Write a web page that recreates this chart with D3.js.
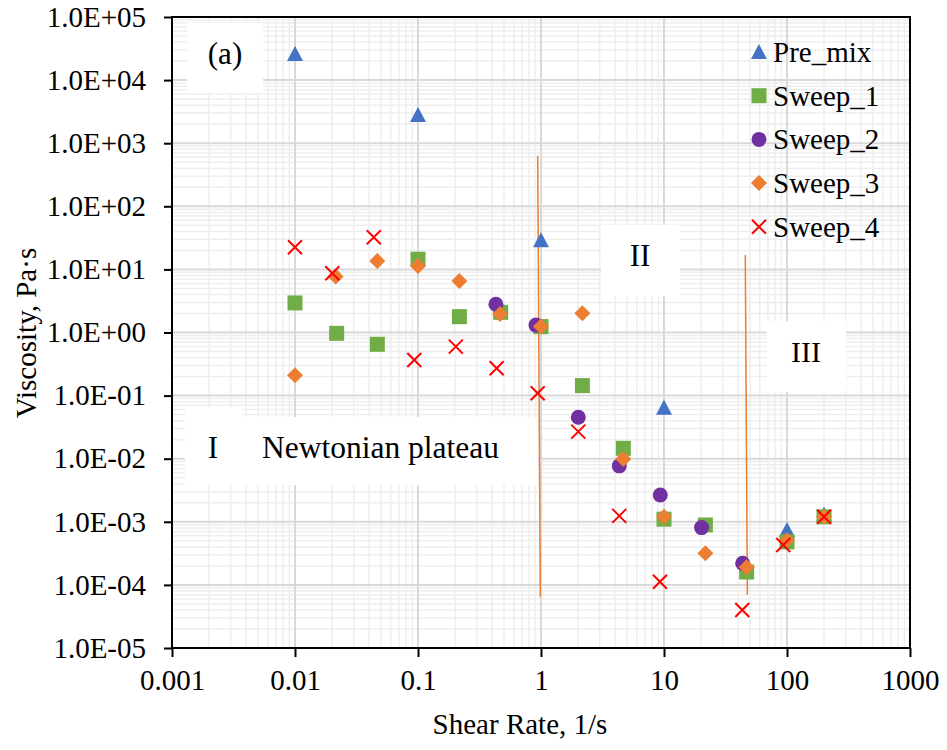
<!DOCTYPE html>
<html>
<head>
<meta charset="utf-8">
<script src="https://cdn.jsdelivr.net/npm/d3@7"></script>
<style>
  body { margin: 0; background: #fff; }
  svg text { font-family: "Liberation Serif", "Times New Roman", serif; fill: #000; }
</style>
</head>
<body>
<div id="g"></div>
<script>
// shear rate (1/s) and viscosity (Pa.s)
const preMixX = [0.01, 0.1, 1, 10, 100, 200];
const preMixY = [2.6e4, 2.8e3, 29, 0.064, 7.4e-4, 1.3e-3];

const sweep1X = [0.01, 0.0218, 0.0467, 0.1, 0.217, 0.47, 1.0, 2.17, 4.67, 10, 21.7, 47, 100, 200];
const sweep1Y = [2.94, 0.97, 0.65, 14.5, 1.78, 2.09, 1.24, 0.144, 0.0146, 1.1e-3, 8.9e-4, 1.6e-4, 4.8e-4, 1.2e-3];

const sweep2X = [0.43, 0.91, 2.01, 4.33, 9.33, 20.2, 43.6];
const sweep2Y = [2.8, 1.31, 0.0453, 7.7e-3, 2.66e-3, 8.1e-4, 2.2e-4];

const sweep3X = [0.01, 0.0214, 0.0467, 0.1, 0.217, 0.465, 1.0, 2.17, 4.67, 10, 21.7, 47, 100, 200];
const sweep3Y = [0.21, 7.7, 13.6, 11.3, 6.55, 1.96, 1.24, 2.01, 9.9e-3, 1.2e-3, 3.16e-4, 1.9e-4, 5.1e-4, 1.2e-3];

const sweep4X = [0.01, 0.0201, 0.0437, 0.0933, 0.203, 0.436, 0.94, 2.01, 4.33, 9.27, 43.3, 93.3, 200];
const sweep4Y = [22.4, 8.67, 32.3, 0.367, 0.597, 0.271, 0.109, 0.0269, 1.24e-3, 1.12e-4, 4.0e-5, 4.3e-4, 1.2e-3];

// orange region boundaries
const bound1X = [0.94, 0.987];
const bound1Y = [634, 6.5e-5];
const bound2X = [45.8, 47.6];
const bound2Y = [16.9, 6.9e-5];

const xTicks = [0.001, 0.01, 0.1, 1, 10, 100, 1000];
const xTickLabels = ["0.001", "0.01", "0.1", "1", "10", "100", "1000"];
const yTicks = [1e5, 1e4, 1e3, 1e2, 1e1, 1e0, 1e-1, 1e-2, 1e-3, 1e-4, 1e-5];
const yTickLabels = ["1.0E+05", "1.0E+04", "1.0E+03", "1.0E+02", "1.0E+01", "1.0E+00",
                     "1.0E-01", "1.0E-02", "1.0E-03", "1.0E-04", "1.0E-05"];

const seriesNames = ["Pre_mix", "Sweep_1", "Sweep_2", "Sweep_3", "Sweep_4"];
const seriesColors = ["#4472C4", "#70AD47", "#7030A0", "#ED7D31", "#FF0000"];
const seriesShapes = ["triangle", "square", "circle", "diamond", "cross"];

function make_graph() {
    const margin = { top: 17, right: 37, bottom: 102, left: 172 };
    const W = 947, H = 750;
    const width = W - margin.left - margin.right;
    const height = H - margin.top - margin.bottom;

    const xScale = d3.scaleLog().domain([1e-3, 1e3]).range([0, width]);
    const yScale = d3.scaleLog().domain([1e-5, 1e5]).range([height, 0]);

    const svg = d3.select('#g').append('svg')
        .attr('width', W)
        .attr('height', H);

    const g = svg.append('g')
        .attr('transform', `translate(${margin.left}, ${margin.top})`);

    // gridlines: minor first, then major
    const minorX = [], minorY = [];
    for (let e = -3; e < 3; e++) for (let k = 2; k <= 9; k++) minorX.push(k * Math.pow(10, e));
    for (let e = -5; e < 5; e++) for (let k = 2; k <= 9; k++) minorY.push(k * Math.pow(10, e));

    g.selectAll('.mx').data(minorX).enter().append('line')
        .attr('x1', d => xScale(d)).attr('x2', d => xScale(d))
        .attr('y1', 0).attr('y2', height)
        .attr('stroke', '#eeeeee').attr('stroke-width', 1.5);
    g.selectAll('.my').data(minorY).enter().append('line')
        .attr('y1', d => yScale(d)).attr('y2', d => yScale(d))
        .attr('x1', 0).attr('x2', width)
        .attr('stroke', '#eeeeee').attr('stroke-width', 1.5);
    g.selectAll('.gx').data(xTicks).enter().append('line')
        .attr('x1', d => xScale(d)).attr('x2', d => xScale(d))
        .attr('y1', 0).attr('y2', height)
        .attr('stroke', '#d9d9d9').attr('stroke-width', 2);
    g.selectAll('.gy').data(yTicks).enter().append('line')
        .attr('y1', d => yScale(d)).attr('y2', d => yScale(d))
        .attr('x1', 0).attr('x2', width)
        .attr('stroke', '#d9d9d9').attr('stroke-width', 2);

    // white text boxes
    const boxes = [
        [187, 23, 76, 70],
        [601, 225, 79, 71],
        [767, 321, 79, 71],
        [185, 408, 57, 77],
        [241, 417, 297, 68]
    ];
    svg.selectAll('.box').data(boxes).enter().append('rect')
        .attr('x', d => d[0]).attr('y', d => d[1])
        .attr('width', d => d[2]).attr('height', d => d[3])
        .attr('fill', '#fff');

    svg.append('text').attr('x', 225).attr('y', 64).attr('text-anchor', 'middle')
        .style('font-size', '31px').text('(a)');
    svg.append('text').attr('x', 640).attr('y', 266).attr('text-anchor', 'middle')
        .style('font-size', '31px').text('II');
    svg.append('text').attr('x', 806).attr('y', 362).attr('text-anchor', 'middle')
        .style('font-size', '30px').text('III');
    svg.append('text').attr('x', 213).attr('y', 458).attr('text-anchor', 'middle')
        .style('font-size', '31px').text('I');
    svg.append('text').attr('x', 262).attr('y', 458)
        .style('font-size', '31.5px').text('Newtonian plateau');

    // axes
    const xAxis = d3.axisBottom(xScale)
        .tickValues(xTicks)
        .tickFormat((d, i) => xTickLabels[i])
        .tickSize(9).tickSizeOuter(0).tickPadding(12);
    const yAxis = d3.axisLeft(yScale)
        .tickValues(yTicks)
        .tickFormat((d, i) => yTickLabels[i])
        .tickSize(8).tickSizeOuter(0).tickPadding(18);

    const gx = g.append('g')
        .attr('transform', `translate(0, ${height})`)
        .call(xAxis);
    const gy = g.append('g').call(yAxis);
    [gx, gy].forEach(a => {
        a.select('.domain').remove();
        a.selectAll('line').attr('stroke', '#000').attr('stroke-width', 2);
        a.selectAll('text')
            .style('font-family', '"Liberation Serif", "Times New Roman", serif')
            .style('font-size', '29px')
            .attr('fill', '#000');
    });

    // plot border
    g.append('rect')
        .attr('x', 0).attr('y', 0)
        .attr('width', width).attr('height', height)
        .attr('fill', 'none').attr('stroke', '#000').attr('stroke-width', 2);

    // axis titles
    svg.append('text')
        .attr('x', 520).attr('y', 734)
        .attr('text-anchor', 'middle')
        .style('font-size', '29px')
        .text('Shear Rate, 1/s');
    svg.append('text')
        .attr('transform', 'translate(36, 333) rotate(-90)')
        .attr('text-anchor', 'middle')
        .style('font-size', '29px')
        .text('Viscosity, Pa\u00b7s');

    // boundary lines
    const line = d3.line().x(d => xScale(d[0])).y(d => yScale(d[1]));
    [[bound1X, bound1Y], [bound2X, bound2Y]].forEach(b => {
        g.append('path')
            .datum(b[0].map((v, i) => [v, b[1][i]]))
            .attr('d', line)
            .attr('fill', 'none')
            .attr('stroke', '#ED7D31')
            .attr('stroke-width', 1.5);
    });

    // markers
    function marker(sel, shape, color) {
        if (shape == 'cross') {
            sel.append('path')
                .attr('d', 'M-7,-7L7,7M-7,7L7,-7')
                .attr('stroke', color).attr('stroke-width', 2).attr('fill', 'none');
        } else if (shape == 'triangle') {
            sel.append('path').attr('d', 'M0,-8L8,7L-8,7Z').attr('fill', color);
        } else if (shape == 'square') {
            sel.append('rect').attr('x', -7.5).attr('y', -7.5)
                .attr('width', 15).attr('height', 15).attr('fill', color);
        } else if (shape == 'circle') {
            sel.append('circle').attr('r', 7.5).attr('fill', color);
        } else {
            sel.append('path').attr('d', 'M0,-8L8,0L0,8L-8,0Z').attr('fill', color);
        }
    }

    const allX = [preMixX, sweep1X, sweep2X, sweep3X, sweep4X];
    const allY = [preMixY, sweep1Y, sweep2Y, sweep3Y, sweep4Y];
    seriesNames.forEach((name, s) => {
        const pts = allX[s].map((v, i) => [v, allY[s][i]]);
        g.selectAll('.pt' + s).data(pts).enter().append('g')
            .attr('transform', d => `translate(${xScale(d[0])}, ${yScale(d[1])})`)
            .each(function() { marker(d3.select(this), seriesShapes[s], seriesColors[s]); });
    });

    // legend
    const leg = svg.append('g');
    seriesNames.forEach((name, i) => {
        const row = leg.append('g').attr('transform', `translate(759, ${52 + i * 43.7})`);
        marker(row, seriesShapes[i], seriesColors[i]);
        row.append('text')
            .attr('x', 14).attr('y', 10)
            .style('font-size', '29px')
            .text(name);
    });
}

make_graph();
</script>
</body>
</html>
